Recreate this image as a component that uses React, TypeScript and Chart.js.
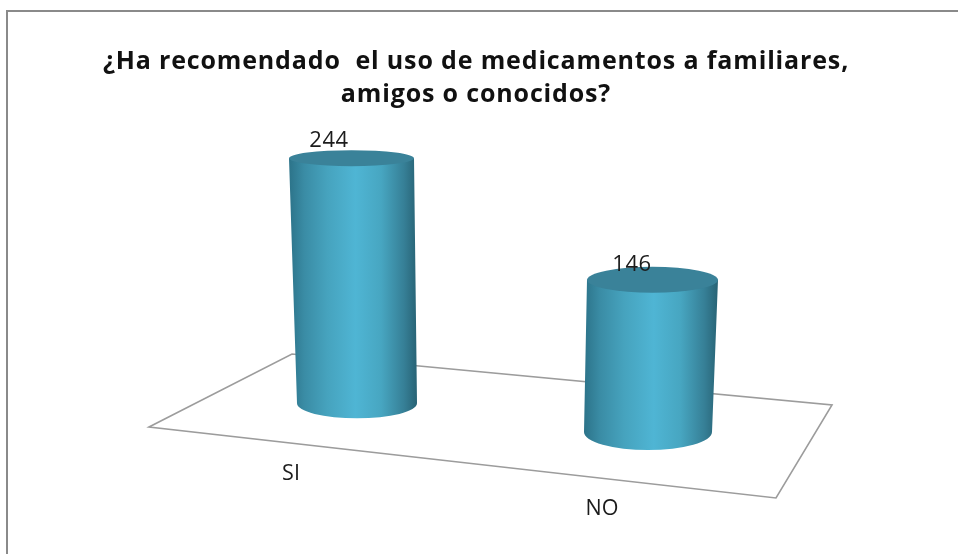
import React, { useEffect, useRef } from "react";
import { Chart, registerables } from "chart.js";

Chart.register(...registerables);

const categories = ["SI", "NO"];
const responses = [244, 146];
const titleLines = [
  "¿Ha recomendado  el uso de medicamentos a familiares,",
  "amigos o conocidos?",
];

const FONT = '"Open Sans", sans-serif';
const INK = "#1c1c1c";

// Perspective of each cylinder: half-widths, squash of the ellipses, lean of the axis.
const cylinderViews = [
  { topRx: 62.5, botRx: 60, topRy: 8, botRy: 15, topDx: -2.5, botDx: 3 },
  { topRx: 65.5, botRx: 64, topRy: 13, botRy: 18, topDx: 2.5, botDx: -2 },
];
const valueLabelOffsets = [
  { dx: -25, dy: -17 },
  { dx: -18, dy: -15 },
];
const categoryLabelPositions = [
  { x: 291, y: 474 },
  { x: 602, y: 509 },
];
const floorCorners = [
  [149, 427],
  [292, 354],
  [832, 405],
  [776, 498],
];

const threeDScene = {
  id: "threeDScene",
  beforeDraw(chart: any) {
    const { ctx, width, height } = chart;
    ctx.save();
    ctx.fillStyle = "#ffffff";
    ctx.fillRect(0, 0, width, height);
    // outer frame, open towards the right and bottom edges
    ctx.strokeStyle = "#8a8a8a";
    ctx.lineWidth = 2;
    ctx.beginPath();
    ctx.moveTo(7, height);
    ctx.lineTo(7, 11);
    ctx.lineTo(width, 11);
    ctx.stroke();
    ctx.restore();
    // the title is set slightly wide
    ctx.letterSpacing = "0.85px";
  },
  beforeDatasetsDraw(chart: any) {
    const { ctx } = chart;
    ctx.letterSpacing = "0px";
    ctx.save();
    ctx.strokeStyle = "#9c9c9c";
    ctx.lineWidth = 1.6;
    ctx.beginPath();
    floorCorners.forEach(([x, y], i) => (i ? ctx.lineTo(x, y) : ctx.moveTo(x, y)));
    ctx.closePath();
    ctx.stroke();
    ctx.restore();
  },
  beforeDatasetDraw(chart: any, args: any) {
    const { ctx } = chart;
    const meta = chart.getDatasetMeta(args.index);
    meta.data.forEach((bar: any, i: number) => {
      const view = cylinderViews[i];
      if (!Number.isFinite(bar.y) || !Number.isFinite(chart.data.datasets[args.index].data[i])) return;
      const tx = bar.x + view.topDx;
      const bx = bar.x + view.botDx;
      const left = Math.min(tx - view.topRx, bx - view.botRx);
      const right = Math.max(tx + view.topRx, bx + view.botRx);

      const shade = ctx.createLinearGradient(left, 0, right, 0);
      shade.addColorStop(0, "#2c7389");
      shade.addColorStop(0.12, "#3a8ca5");
      shade.addColorStop(0.3, "#46a3be");
      shade.addColorStop(0.52, "#4fb5d4");
      shade.addColorStop(0.72, "#47a6c1");
      shade.addColorStop(0.9, "#367f96");
      shade.addColorStop(1, "#286375");

      ctx.save();
      ctx.beginPath();
      ctx.moveTo(tx - view.topRx, bar.y);
      ctx.lineTo(bx - view.botRx, bar.base);
      ctx.ellipse(bx, bar.base, view.botRx, view.botRy, 0, Math.PI, 0, true);
      ctx.lineTo(tx + view.topRx, bar.y);
      ctx.closePath();
      ctx.fillStyle = shade;
      ctx.fill();

      ctx.beginPath();
      ctx.ellipse(tx, bar.y, view.topRx, view.topRy, 0, 0, Math.PI * 2);
      ctx.fillStyle = "#3a8299";
      ctx.fill();
      ctx.restore();
    });
    return false;
  },
  afterDatasetsDraw(chart: any) {
    const { ctx } = chart;
    const xScale = chart.scales.x;
    ctx.save();
    ctx.fillStyle = INK;
    ctx.textAlign = "center";
    ctx.textBaseline = "middle";
    ctx.font = `22px ${FONT}`;
    ctx.letterSpacing = "0.6px";
    chart.data.datasets.forEach((dataset: any, d: number) => {
      const meta = chart.getDatasetMeta(d);
      dataset.data.forEach((value: any, i: number) => {
        if (!Number.isFinite(value)) return;
        const bar = meta.data[i];
        const offset = valueLabelOffsets[i];
        ctx.fillText(String(value), bar.x + offset.dx, bar.y + offset.dy);
      });
    });
    ctx.letterSpacing = "0px";
    ctx.font = `21.5px ${FONT}`;
    categoryLabelPositions.forEach((p, i) => {
      ctx.fillText(xScale.getLabelForValue(i), p.x, p.y);
    });
    ctx.restore();
  },
};

export default function App() {
  const canvasRef = useRef<HTMLCanvasElement | null>(null);

  useEffect(() => {
    const chart = new Chart(canvasRef.current as HTMLCanvasElement, {
      type: "bar",
      data: {
        labels: categories,
        datasets: [
          { label: categories[0], data: [responses[0], null], yAxisID: "yNear", grouped: false },
          { label: categories[1], data: [null, responses[1]], yAxisID: "yFar", grouped: false },
        ],
      },
      plugins: [threeDScene],
      options: {
        animation: false,
        responsive: false,
        layout: { padding: { left: 0, right: 6, top: 0, bottom: 0 } },
        plugins: {
          legend: { display: false },
          tooltip: { enabled: false },
          title: {
            display: true,
            text: titleLines,
            color: "#111111",
            font: { family: FONT, size: 25, weight: "bold", lineHeight: 33 / 25 },
            padding: { top: 45, bottom: 0 },
          },
        },
        scales: {
          x: { display: false, offset: true },
          // Each cylinder stands on its own spot of the skewed floor, so each has its own axis.
          yNear: {
            position: "left",
            min: -150,
            max: 291,
            grid: { display: false },
            border: { display: false },
            ticks: { display: false },
            afterFit: (scale: any) => {
              scale.width = 206;
            },
          },
          yFar: {
            position: "right",
            min: -117,
            max: 308,
            grid: { display: false },
            border: { display: false },
            ticks: { display: false },
            afterFit: (scale: any) => {
              scale.width = 154;
            },
          },
        },
      },
    } as any);
    return () => chart.destroy();
  }, []);

  return (
    <div style={{ position: "absolute", left: 0, top: 0, width: 958, height: 554 }}>
      <canvas ref={canvasRef} width={958} height={554} style={{ display: "block" }} />
    </div>
  );
}
